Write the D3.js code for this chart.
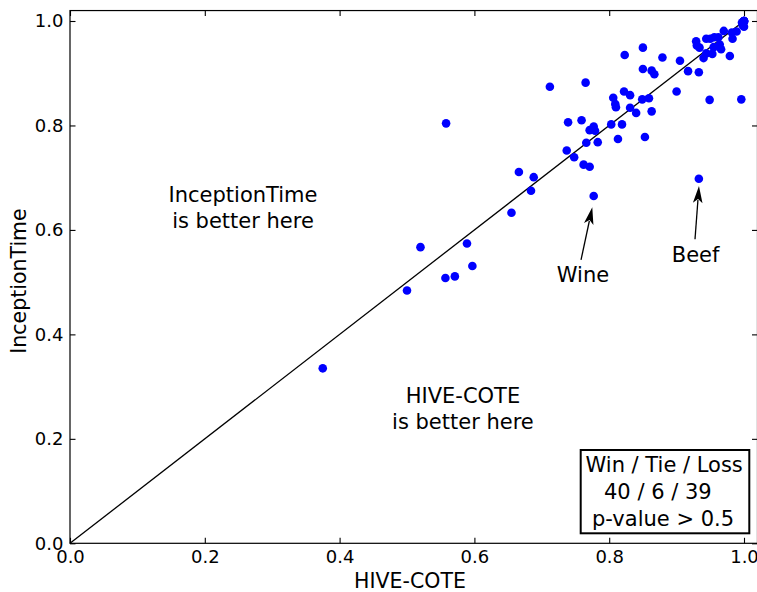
<!DOCTYPE html>
<html><head><meta charset="utf-8">
<script src="https://cdn.jsdelivr.net/npm/d3@7"></script>
<style>
body{margin:0;background:#fff}
svg{display:block;font-family:"DejaVu Sans",sans-serif}
</style>
</head><body>
<svg id="c" width="757" height="592"></svg>
<script>
// HIVE-COTE accuracy (x) vs InceptionTime accuracy (y), one pair per dataset
const hiveCote = [
  0.375,0.500,0.520,0.557,0.571,0.589,0.597,0.558,0.655,0.666,
  0.684,0.688,0.712,0.737,0.748,0.762,0.771,0.777,0.933,0.765,
  0.739,0.759,0.806,0.809,0.810,0.777,0.771,0.779,0.803,0.819,
  0.766,0.783,0.813,0.853,0.823,0.850,0.879,0.905,0.850,0.863,
  0.867,0.917,0.933,0.900,0.822,0.831,0.849,0.859,0.831,0.840,
  0.863,0.949,0.996,0.929,0.930,0.934,0.944,0.950,0.956,0.962,
  0.970,0.982,0.989,0.983,0.964,0.966,0.955,0.953,0.944,0.940,
  0.979,0.998,1.000,1.000,1.000,0.997,1.000,1.000,1.000,1.000
];
const inceptionTime = [
  0.335,0.484,0.567,0.508,0.511,0.574,0.531,0.804,0.633,0.711,
  0.675,0.701,0.874,0.752,0.739,0.725,0.721,0.665,0.698,0.882,
  0.806,0.810,0.853,0.841,0.835,0.798,0.791,0.790,0.802,0.802,
  0.767,0.768,0.774,0.778,0.935,0.949,0.930,0.924,0.908,0.905,
  0.898,0.904,0.902,0.865,0.865,0.858,0.850,0.852,0.834,0.824,
  0.827,0.849,0.850,0.961,0.953,0.949,0.966,0.966,0.969,0.969,
  0.981,0.978,0.980,0.966,0.955,0.946,0.950,0.937,0.938,0.929,
  0.933,0.992,0.989,0.998,1.000,0.997,1.000,1.000,1.000,1.000
];
const tickValues = [0.0,0.2,0.4,0.6,0.8,1.0];
const xLabel = "HIVE-COTE";
const yLabel = "InceptionTime";
const regionTexts = [
  {lines:["InceptionTime","is better here"], x:0.2567, y:0.654},
  {lines:["HIVE-COTE","is better here"], x:0.583, y:0.268}
];
const namedPoints = [
  {name:"Wine", tx:0.7611, ty:0.501, ax:0.7582, ay:0.5427, hx:0.7749, hy:0.6433},
  {name:"Beef", tx:0.9281, ty:0.539, ax:0.9273, ay:0.582, hx:0.9332, hy:0.684}
];
const statsLines = ["Win / Tie / Loss", "40 / 6 / 39", "p-value > 0.5"];

const svg = d3.select("#c");
const x = d3.scaleLinear().domain([0,1.02]).range([70, 70+674*1.02]);
const y = d3.scaleLinear().domain([0,1.02]).range([543.3, 543.3-522.3*1.02]);
const fmt = d3.format(".1f");

// diagonal
svg.append("line")
  .attr("x1",x(0)).attr("y1",y(0)).attr("x2",x(1)).attr("y2",y(1))
  .attr("stroke","#000").attr("stroke-width",1.3);

// points
svg.append("g").selectAll("circle")
  .data(hiveCote.map((v,i)=>[v,inceptionTime[i]]))
  .join("circle")
  .attr("cx",d=>x(d[0])).attr("cy",d=>y(d[1])).attr("r",4.3)
  .attr("fill","#0000ff");

// axes (inward ticks)
const yB = y.range()[0], yT = y.range()[1], xL = x.range()[0], xR = x.range()[1];
const gBottom = svg.append("g").attr("transform",`translate(0,${yB})`)
  .call(d3.axisBottom(x).tickValues(tickValues).tickFormat(fmt).tickSizeInner(-5.5).tickSizeOuter(0).tickPadding(7));
const gLeft = svg.append("g").attr("transform",`translate(${xL},0)`)
  .call(d3.axisLeft(y).tickValues(tickValues).tickFormat(fmt).tickSizeInner(-5.5).tickSizeOuter(0).tickPadding(6.5));
const gTop = svg.append("g").attr("transform",`translate(0,${yT})`)
  .call(d3.axisTop(x).tickValues(tickValues).tickFormat("").tickSizeInner(-5.5).tickSizeOuter(0));
const gRight = svg.append("g").attr("transform",`translate(${xR},0)`)
  .call(d3.axisRight(y).tickValues(tickValues).tickFormat("").tickSizeInner(-5.5).tickSizeOuter(0));
[gBottom,gLeft,gTop,gRight].forEach(g=>{
  g.select(".domain").remove();
  g.selectAll("line").attr("stroke","#000").attr("stroke-width",1.1);
  g.selectAll("text").attr("font-family","DejaVu Sans").attr("font-size",18).attr("fill","#000");
});

// frame
svg.append("rect").attr("x",xL).attr("y",yT).attr("width",xR-xL).attr("height",yB-yT)
  .attr("fill","none").attr("stroke","#000").attr("stroke-width",1.2);

// axis labels
svg.append("text").attr("x",x(0.5)+3).attr("y",588)
  .attr("text-anchor","middle").attr("font-size",20.5).text(xLabel);
svg.append("text").attr("transform",`translate(26,${281}) rotate(-90)`)
  .attr("text-anchor","middle").attr("font-size",20.5).text(yLabel);

// region texts
regionTexts.forEach(r=>{
  const t = svg.append("text").attr("text-anchor","middle").attr("font-size",21)
    .attr("x",x(r.x)).attr("y",y(r.y));
  r.lines.forEach((ln,i)=>t.append("tspan").attr("x",x(r.x)).attr("dy",i?26:0).text(ln));
});

// annotated points with arrows
namedPoints.forEach(p=>{
  svg.append("text").attr("text-anchor","middle").attr("font-size",21)
    .attr("x",x(p.tx)).attr("y",y(p.ty)).text(p.name);
  const x1=x(p.ax), y1=y(p.ay), x2=x(p.hx), y2=y(p.hy);
  const ang = Math.atan2(y2-y1,x2-x1);
  const hl = 17, hw = 4.8;
  const bx = x2 - hl*Math.cos(ang), by = y2 - hl*Math.sin(ang);
  svg.append("line").attr("x1",x1).attr("y1",y1).attr("x2",bx+3*Math.cos(ang)).attr("y2",by+3*Math.sin(ang))
    .attr("stroke","#000").attr("stroke-width",1.3);
  const nx = -Math.sin(ang), ny = Math.cos(ang);
  const ix = x2 - (hl-4)*Math.cos(ang), iy = y2 - (hl-4)*Math.sin(ang);
  svg.append("path").attr("d",`M${x2},${y2}L${bx+hw*nx},${by+hw*ny}L${ix},${iy}L${bx-hw*nx},${by-hw*ny}Z`)
    .attr("fill","#000");
});

// stats box
svg.append("rect").attr("x",580.7).attr("y",450).attr("width",168.6).attr("height",83.3)
  .attr("fill","#fff").attr("stroke","#000").attr("stroke-width",2);
const lineX = [585.5, 604, 592];
const baselines = [471.7, 499.3, 526];
statsLines.forEach((s,i)=>{
  svg.append("text").attr("x",lineX[i]).attr("y",baselines[i]).attr("font-size",21).text(s);
});
</script>
</body></html>
